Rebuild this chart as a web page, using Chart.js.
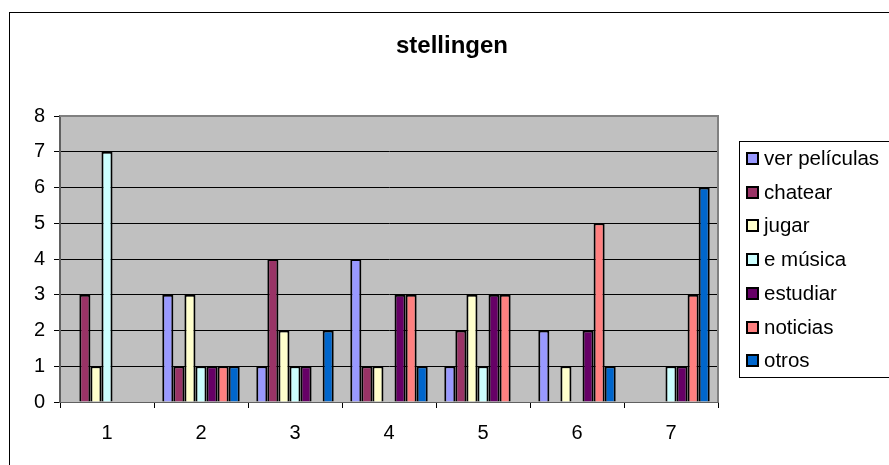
<!DOCTYPE html>
<html>
<head>
<meta charset="utf-8">
<style>
  html, body { margin: 0; padding: 0; background: #fff; }
  canvas { display: block; }
</style>
<script src="https://cdn.jsdelivr.net/npm/chart.js@4/dist/chart.umd.min.js"></script>
</head>
<body>
<canvas id="c" width="889" height="465" style="width:889px;height:465px"></canvas>
<script>
// Categories along the x axis
const categories = ['1', '2', '3', '4', '5', '6', '7'];

// One array per activity (counts per statement)
const verPeliculas = [0, 3, 1, 4, 1, 2, 0];
const chatear      = [3, 1, 4, 1, 2, 0, 0];
const jugar        = [1, 3, 2, 1, 3, 1, 0];
const eMusica      = [7, 1, 1, 0, 1, 0, 1];
const estudiar     = [0, 1, 1, 3, 3, 2, 1];
const noticias     = [0, 1, 0, 3, 3, 5, 3];
const otros        = [0, 1, 2, 1, 0, 1, 6];

const seriesNames = ['ver películas', 'chatear', 'jugar', 'e música', 'estudiar', 'noticias', 'otros'];
const seriesValues = [verPeliculas, chatear, jugar, eMusica, estudiar, noticias, otros];
const seriesColors = ['#9999FF', '#993366', '#FFFFCC', '#CCFFFF', '#660066', '#FF8080', '#0066CC'];

const yTicks = [0, 1, 2, 3, 4, 5, 6, 7, 8];
const titleText = 'stellingen';

const FONT = '"Liberation Sans", Arial, sans-serif';

// Gray plot background, plot frame, outer frame, title and legend box
const decorations = {
  id: 'decorations',
  beforeDraw(chart) {
    const { ctx, chartArea: a } = chart;
    ctx.save();
    ctx.fillStyle = '#fff';
    ctx.fillRect(0, 0, chart.width, chart.height);
    ctx.fillStyle = '#C0C0C0';
    ctx.fillRect(a.left, a.top, a.right - a.left, a.bottom - a.top);
    ctx.restore();
  },
  afterDatasetsDraw(chart) {
    const { ctx, chartArea: a } = chart;
    ctx.save();
    // plot frame (top and right)
    ctx.strokeStyle = '#808080';
    ctx.lineWidth = 2;
    ctx.beginPath();
    ctx.moveTo(a.left, a.top);
    ctx.lineTo(a.right, a.top);
    ctx.lineTo(a.right, a.bottom);
    ctx.stroke();

    // outer chart frame
    ctx.strokeStyle = '#000';
    ctx.lineWidth = 1;
    ctx.strokeRect(9.5, 12.5, 900, 470);

    // title
    ctx.fillStyle = '#000';
    ctx.font = 'bold 24px ' + FONT;
    ctx.textAlign = 'center';
    ctx.textBaseline = 'middle';
    ctx.fillText(titleText, 452, 46);

    // legend
    const lx = 739.5, ly = 141.5, lh = 236;
    ctx.strokeStyle = '#000';
    ctx.lineWidth = 1;
    ctx.strokeRect(lx, ly, 200, lh);
    ctx.font = '20.5px ' + FONT;
    ctx.textAlign = 'left';
    ctx.textBaseline = 'middle';
    chart.data.datasets.forEach((ds, i) => {
      const cy = Math.round(158 + i * 33.7);
      ctx.fillStyle = ds.backgroundColor;
      ctx.fillRect(746, cy - 6, 13, 13);
      ctx.strokeStyle = '#000';
      ctx.lineWidth = 2;
      ctx.strokeRect(747, cy - 5, 11, 11);
      ctx.fillStyle = '#000';
      ctx.fillText(ds.label, 764, cy + 1);
    });
    ctx.restore();
  }
};

new Chart(document.getElementById('c'), {
  type: 'bar',
  data: {
    labels: categories,
    datasets: seriesNames.map((name, i) => ({
      label: name,
      data: seriesValues[i],
      backgroundColor: seriesColors[i],
      borderColor: '#000',
      borderWidth: 2,
      categoryPercentage: 7 / 8.5,
      barPercentage: 1
    }))
  },
  options: {
    responsive: false,
    animation: false,
    devicePixelRatio: 1,
    layout: { padding: { left: 0, top: 116, right: 171, bottom: 0 } },
    plugins: {
      legend: { display: false },
      title: { display: false },
      tooltip: { enabled: false }
    },
    scales: {
      x: {
        offset: true,
        grid: {
          offset: true,
          drawOnChartArea: false,
          drawTicks: true,
          tickLength: 6,
          color: '#000'
        },
        border: { display: true, color: '#606060', width: 1 },
        ticks: {
          color: '#000',
          font: { family: FONT, size: 20 },
          padding: 13,
          maxRotation: 0
        },
        afterFit(scale) { scale.height = 63; }
      },
      y: {
        min: 0,
        max: 8,
        afterBuildTicks(scale) { scale.ticks = yTicks.map(v => ({ value: v })); },
        grid: {
          color: '#000',
          tickLength: 6,
          drawTicks: true
        },
        border: { display: true, color: '#606060', width: 2 },
        ticks: {
          color: '#000',
          font: { family: FONT, size: 20 },
          padding: 9
        },
        afterFit(scale) { scale.width = 60; }
      }
    }
  },
  plugins: [decorations]
});
</script>
</body>
</html>
